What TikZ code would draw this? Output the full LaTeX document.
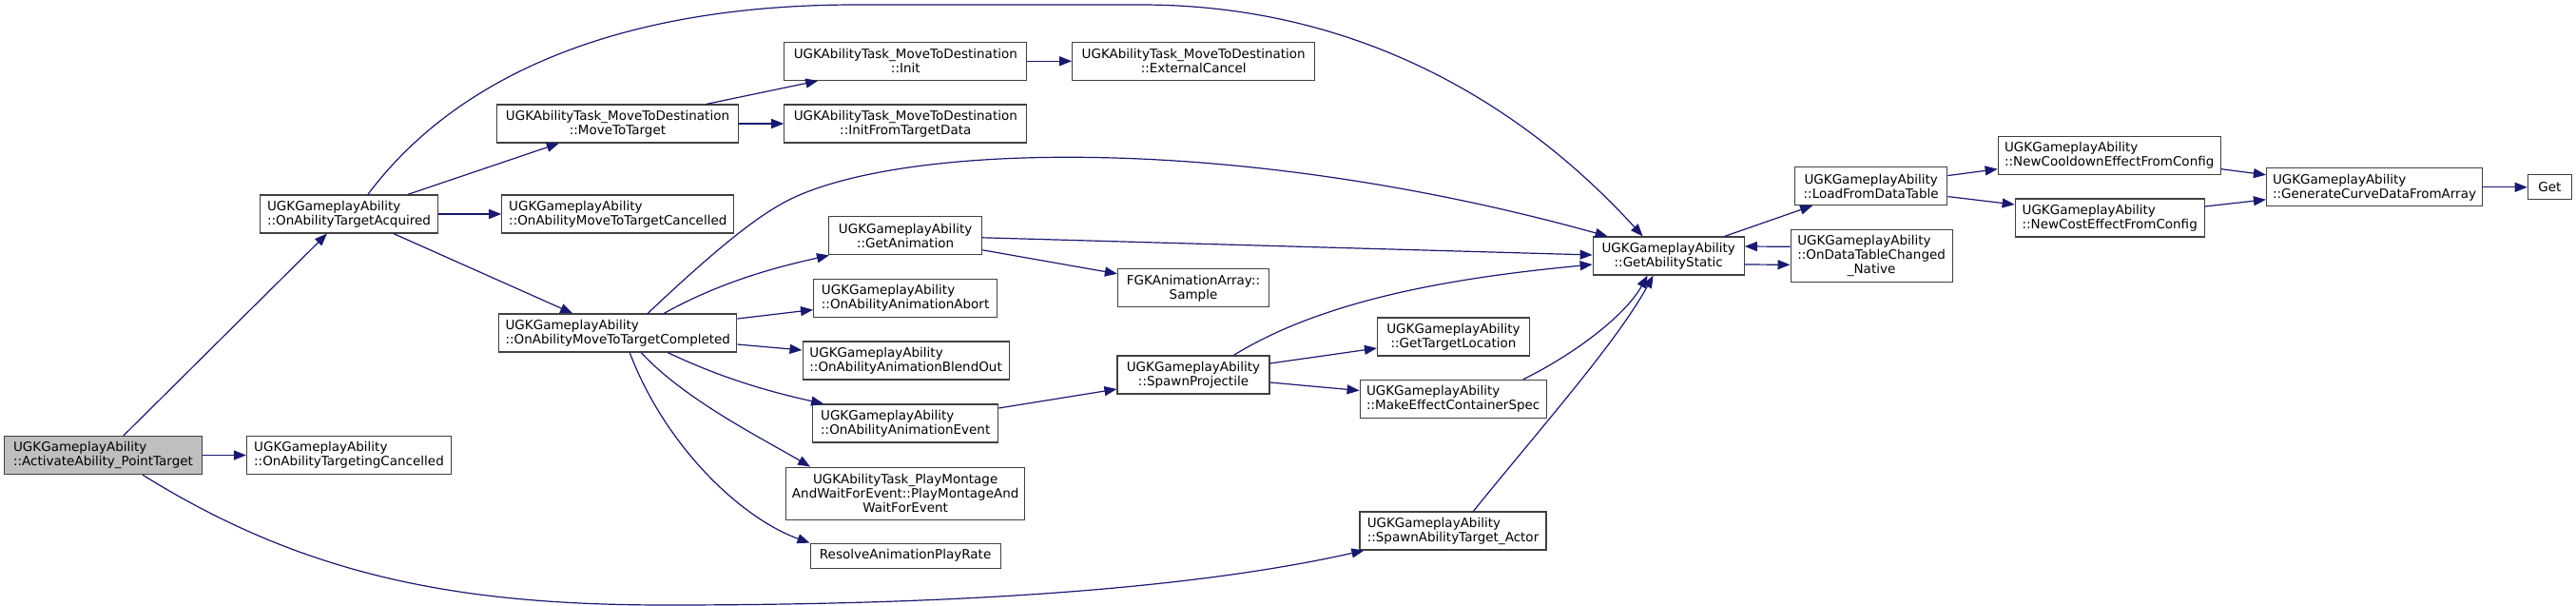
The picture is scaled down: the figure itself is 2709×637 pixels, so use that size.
\documentclass[tikz,border=0pt]{standalone}
\usepackage{fontspec}
\setmainfont{DejaVu Sans}
\usepackage{xcolor}
\definecolor{dxedge}{RGB}{25,25,112}
\definecolor{dxborder}{RGB}{64,64,64}
\definecolor{dxfill}{RGB}{191,191,191}
\usepackage{tikz}
\usetikzlibrary{arrows.meta}

\begin{document}
\begin{tikzpicture}[
    x=1pt, y=-1pt,
    fn/.style={draw=dxborder, line width=1.2pt, fill=white, inner sep=0pt,
               minimum height=40, font=\fontsize{13.5}{15}\selectfont, text=black},
    fnl/.style={fn, align=left},
    fnc/.style={fn, align=center},
    root/.style={fnl, fill=dxfill},
    call/.style={dxedge, line width=1.2pt, -{Triangle[length=13pt,width=10pt]}},
  ]
    \useasboundingbox (0,0) rectangle (2709,637);

    % --- Column 1 / 2 ---
    \node[root, minimum width=208] (act)  at (108.5,478.5) {UGKGameplayAbility\\::ActivateAbility\_PointTarget};
    \node[fnl, minimum width=215]  (tcan) at (367,478.5)   {UGKGameplayAbility\\::OnAbilityTargetingCancelled};
    \node[fnl, minimum width=187]  (acq)  at (367,225)     {UGKGameplayAbility\\::OnAbilityTargetAcquired};

    % --- Column 3 ---
    \node[fnc, minimum width=254] (mtt)   at (649.5,130) {UGKAbilityTask\_MoveToDestination\\::MoveToTarget};
    \node[fnl, minimum width=244] (mcan)  at (649.8,225) {UGKGameplayAbility\\::OnAbilityMoveToTargetCancelled};
    \node[fnl, minimum width=250] (mcomp) at (649.8,350) {UGKGameplayAbility\\::OnAbilityMoveToTargetCompleted};

    % --- Column 4 ---
    \node[fnc, minimum width=255] (init)  at (952.3,64.3) {UGKAbilityTask\_MoveToDestination\\::Init};
    \node[fnc, minimum width=255] (ifd)   at (952.3,130)  {UGKAbilityTask\_MoveToDestination\\::InitFromTargetData};
    \node[fnc, minimum width=161] (anim)  at (952.1,247.8) {UGKGameplayAbility\\::GetAnimation};
    \node[fnl, minimum width=193] (abort) at (952.1,313.6) {UGKGameplayAbility\\::OnAbilityAnimationAbort};
    \node[fnl, minimum width=217] (blend) at (952.6,379)   {UGKGameplayAbility\\::OnAbilityAnimationBlendOut};
    \node[fnl, minimum width=195] (aevt)  at (952.2,445)   {UGKGameplayAbility\\::OnAbilityAnimationEvent};
    \node[fnc, minimum width=251, minimum height=55] (pmont) at (952.2,518.7)
      {UGKAbilityTask\_PlayMontage\\AndWaitForEvent::PlayMontageAnd\\WaitForEvent};
    \node[fnc, minimum width=200, minimum height=26] (rapr) at (952.1,584.2) {ResolveAnimationPlayRate};

    % --- Column 5 / 6 ---
    \node[fnc, minimum width=255] (ext)    at (1255.2,64.3) {UGKAbilityTask\_MoveToDestination\\::ExternalCancel};
    \node[fnc, minimum width=159] (sample) at (1255,302.8)  {FGKAnimationArray::\\Sample};
    \node[fnc, minimum width=160] (proj)   at (1255,394)    {UGKGameplayAbility\\::SpawnProjectile};
    \node[fnc, minimum width=160] (tloc)   at (1528.5,354)  {UGKGameplayAbility\\::GetTargetLocation};
    \node[fnl, minimum width=196] (mecs)   at (1528.2,419.5) {UGKGameplayAbility\\::MakeEffectContainerSpec};
    \node[fnl, minimum width=196] (sata)   at (1528,558)    {UGKGameplayAbility\\::SpawnAbilityTarget\_Actor};

    % --- Column 7 and beyond ---
    \node[fnc, minimum width=159] (gas)   at (1754.7,269)  {UGKGameplayAbility\\::GetAbilityStatic};
    \node[fnc, minimum width=160] (lfdt)  at (1967.7,195.6) {UGKGameplayAbility\\::LoadFromDataTable};
    \node[fnc, minimum width=170, minimum height=55] (odtc) at (1968.1,269.3)
      {\begin{tabular}[b]{@{}l@{}}UGKGameplayAbility\\::OnDataTableChanged\end{tabular}\\\_Native};
    \node[fnl, minimum width=234] (ncool) at (2218.2,163.7) {UGKGameplayAbility\\::NewCooldownEffectFromConfig};
    \node[fnl, minimum width=199] (ncost) at (2218.7,229)   {UGKGameplayAbility\\::NewCostEffectFromConfig};
    \node[fnl, minimum width=227] (gcd)   at (2497,196.8)   {UGKGameplayAbility\\::GenerateCurveDataFromArray};
    \node[fnc, minimum width=46, minimum height=26] (get) at (2681.3,196.8) {Get};

    % --- Calls from ActivateAbility_PointTarget ---
    \draw[call] ([xshift=126]act.north west) -- ([xshift=71]acq.south west);
    \draw[call] (act.east) -- (tcan.west);
    \draw[call] ([xshift=146]act.south west) .. controls (320,605) and (480,636) .. (700,636)
      .. controls (1000,636) and (1250,620) .. ([xshift=5]sata.south west);

    % --- Calls from OnAbilityTargetAcquired ---
    \draw[call] ([xshift=114]acq.north west) .. controls (480,80) and (650,5) .. (900,5) -- (1200,5)
      .. controls (1450,5) and (1620,130) .. ([xshift=53]gas.north west);
    \draw[call] ([xshift=156]acq.north west) -- ([xshift=66]mtt.south west);
    \draw[call] (acq.east) -- (mcan.west);
    \draw[call] ([xshift=141]acq.south west) -- ([xshift=78]mcomp.north west);

    % MoveToTarget / Init
    \draw[call] ([xshift=221]mtt.north west) -- ([xshift=36]init.south west);
    \draw[call] (mtt.east) -- (ifd.west);
    \draw[call] (init.east) -- (ext.west);

    % --- Calls from OnAbilityMoveToTargetCompleted ---
    \draw[call] ([xshift=157]mcomp.north west) .. controls (760,255) and (800,225) .. (830,210)
      .. controls (950,150) and (1300,140) .. ([xshift=16]gas.north west);
    \draw[call] ([xshift=174]mcomp.north west) .. controls (760,295) and (820,280) .. ([xshift=1]anim.south west);
    \draw[call] ([yshift=15]mcomp.east) -- ([yshift=-12]abort.west);
    \draw[call] ([yshift=-12]mcomp.east) -- ([yshift=11]blend.west);
    \draw[call] ([xshift=178]mcomp.south west) .. controls (760,398) and (810,412) .. ([xshift=12]aevt.north west);
    \draw[call] ([xshift=150]mcomp.south west) .. controls (720,420) and (800,460) .. ([xshift=26]pmont.north west);
    \draw[call] ([xshift=138]mcomp.south west) .. controls (700,470) and (780,545) .. (rapr.north west);

    % GetAnimation / AnimationEvent
    \draw[call] ([yshift=-2]anim.east) -- ([yshift=1]gas.west);
    \draw[call] ([yshift=-15]anim.east) -- ([yshift=15]sample.west);
    \draw[call] ([yshift=16]aevt.east) -- ([yshift=-15]proj.west);

    % --- Calls from SpawnProjectile ---
    \draw[call] ([xshift=123]proj.north west) .. controls (1400,310) and (1550,290) .. ([yshift=-9]gas.west);
    \draw[call] ([yshift=12]proj.east) -- ([yshift=-12]tloc.west);
    \draw[call] ([yshift=-8]proj.east) -- ([yshift=9]mecs.west);
    \draw[call] ([xshift=172]mecs.north west) .. controls (1660,370) and (1710,330) .. ([xshift=58]gas.south west);
    \draw[call] ([xshift=120]sata.north west) .. controls (1620,450) and (1700,360) .. ([xshift=64]gas.south west);

    % --- GetAbilityStatic and data table ---
    \draw[call] ([xshift=139]gas.north west) -- ([xshift=19]lfdt.south west);
    \draw[call] ([yshift=-9]gas.east) -- ([yshift=-9]odtc.west);
    \draw[call] ([yshift=10]odtc.west) -- ([yshift=10]gas.east);
    \draw[call] ([yshift=11]lfdt.east) -- ([yshift=-14]ncool.west);
    \draw[call] ([yshift=-11]lfdt.east) -- ([yshift=14]ncost.west);
    \draw[call] ([yshift=-14]ncool.east) -- ([yshift=13]gcd.west);
    \draw[call] ([yshift=12]ncost.east) -- ([yshift=-13]gcd.west);
    \draw[call] (gcd.east) -- (get.west);
  \end{tikzpicture}
\end{document}
